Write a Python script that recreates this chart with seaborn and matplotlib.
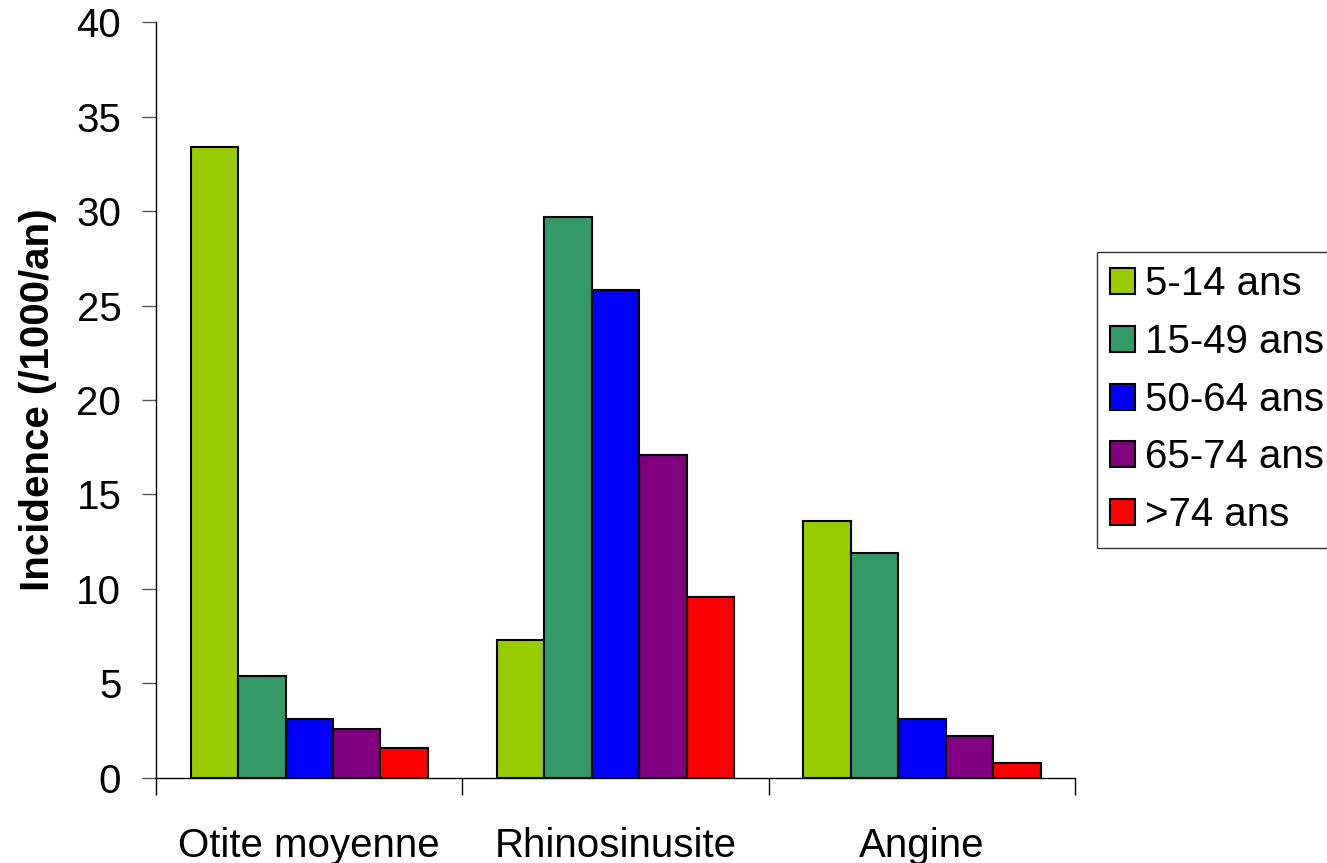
import matplotlib
matplotlib.use("Agg")
import matplotlib.pyplot as plt
import seaborn as sns
import pandas as pd

# Incidence per 1000 person-years by infection and age band
categories = ["Otite moyenne", "Rhinosinusite", "Angine"]
age_groups = ["5-14 ans", "15-49 ans", "50-64 ans", "65-74 ans", ">74 ans"]
values_5_14 = [33.4, 7.3, 13.6]
values_15_49 = [5.4, 29.7, 11.9]
values_50_64 = [3.1, 25.8, 3.1]
values_65_74 = [2.6, 17.1, 2.2]
values_over_74 = [1.6, 9.6, 0.8]
colors = ["#99cc00", "#339966", "#0000ff", "#800080", "#ff0000"]

series = [values_5_14, values_15_49, values_50_64, values_65_74, values_over_74]
rows = []
for grp, vals in zip(age_groups, series):
    for cat, v in zip(categories, vals):
        rows.append({"Infection": cat, "Age": grp, "Incidence": v})
df = pd.DataFrame(rows)

sns.set_style("white")
plt.rcParams["font.family"] = ["Liberation Sans", "DejaVu Sans"]
plt.rcParams["text.color"] = "black"
plt.rcParams["xtick.color"] = "black"
plt.rcParams["ytick.color"] = "black"
plt.rcParams["axes.labelcolor"] = "black"

fig = plt.figure(figsize=(13.27, 8.63), dpi=100)
ax = fig.add_axes([0.1176, 0.0985, 0.8103 - 0.1176, 0.9745 - 0.0985])

sns.barplot(data=df, x="Infection", y="Incidence", hue="Age",
            order=categories, hue_order=age_groups, palette=colors,
            width=0.775, edgecolor="black", linewidth=1.5,
            saturation=1, errorbar=None, ax=ax)

ax.set_xlim(-0.5, 2.5)
ax.set_ylim(0, 40)
ax.set_yticks(range(0, 41, 5))
ax.tick_params(axis="y", labelsize=29, length=10, width=1, direction="out",
               pad=15, color="#555555", labelcolor="black", left=True)
ax.set_xticks([-0.5, 0.5, 1.5, 2.5])
ax.set_xticklabels([])
ax.set_xticks([0, 1, 2], minor=True)
ax.set_xticklabels(categories, minor=True)
ax.tick_params(axis="x", which="major", length=12, width=1, direction="out",
               color="black", bottom=True)
ax.tick_params(axis="x", which="minor", length=0, labelsize=29, pad=35,
               labelcolor="black")

for s in ["top", "right"]:
    ax.spines[s].set_visible(False)
ax.spines["left"].set_color("black")
ax.spines["bottom"].set_color("black")
ax.spines["left"].set_linewidth(1)
ax.spines["bottom"].set_linewidth(1)

ax.set_xlabel("")
ax.set_ylabel("Incidence (/1000/an)", fontsize=29, fontweight="bold",
              labelpad=14, color="black")

handles, labels = ax.get_legend_handles_labels()
ax.legend_.remove()
leg = fig.legend(handles, labels, loc="upper left",
                 bbox_to_anchor=(0.8267, 0.708), fontsize=29,
                 frameon=True, fancybox=False, edgecolor="black",
                 handlelength=0.62, handleheight=0.62, handletextpad=0.25,
                 labelspacing=0.49, borderpad=0.33, borderaxespad=0)
leg.get_frame().set_linewidth(1)
for t in leg.get_texts():
    t.set_color("black")

fig.savefig("out.png", dpi=100, facecolor="white")
